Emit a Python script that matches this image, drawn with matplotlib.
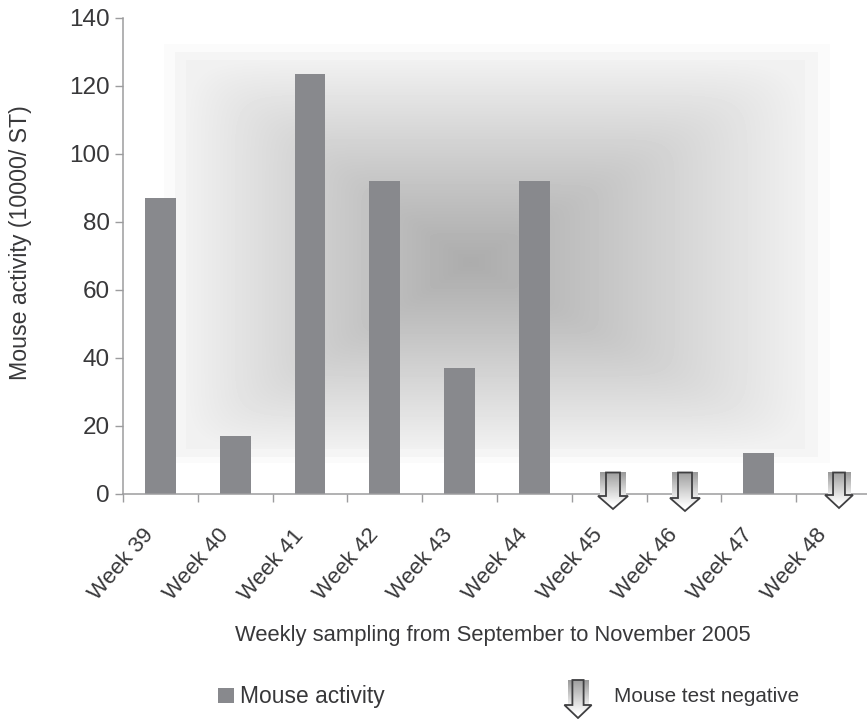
import numpy as np
import matplotlib
matplotlib.use("Agg")
import matplotlib.pyplot as plt
from matplotlib.patches import Polygon, Rectangle

plt.rcParams['font.family'] = ['Liberation Sans', 'DejaVu Sans']

weeks = ['Week 39', 'Week 40', 'Week 41', 'Week 42', 'Week 43',
         'Week 44', 'Week 45', 'Week 46', 'Week 47', 'Week 48']
activity = [87, 17, 123.5, 92, 37, 92, 0, 0, 12, 0]
negative_weeks = ['Week 45', 'Week 46', 'Week 48']

W, H = 867, 719
TXT = '#38383a'
AXC = '#9c9c9e'
BAR = '#88898d'

fig = plt.figure(figsize=(W / 100, H / 100), dpi=100, facecolor='white')


def ax_rect(l, t, r, b):
    return [l / W, 1 - b / H, (r - l) / W, (b - t) / H]


# background gradient panel
bg = fig.add_axes(ax_rect(0, 0, W, H), zorder=0)
bg.axis('off')
x0, x1, y0, y1 = 164, 830, 44, 463
cx, cy = 470, 262
xs = np.arange(x0, x1)
ys = np.arange(y0, y1)
X, Y = np.meshgrid(xs, ys)
dx = np.where(X < cx, (cx - X) / (cx - x0), (X - cx) / (x1 - cx))
dy = np.where(Y < cy, (cy - Y) / (cy - y0), (Y - cy) / (y1 - cy))
d = np.maximum(dx, dy)
soft = (dx ** 12 + dy ** 12) ** (1 / 12)
t = np.clip(soft / 0.93, 0, 1)
shade = 0.675 + (0.945 - 0.675) * t ** 1.1
shade[d > 0.93] = 0.96
shade[d > 0.966] = 0.982
bg.imshow(shade, cmap='gray', vmin=0, vmax=1, extent=(x0, x1, y1, y0),
          aspect='auto', interpolation='bilinear', zorder=0)
bg.set_xlim(0, W)
bg.set_ylim(H, 0)

# main chart
ax = fig.add_axes(ax_rect(123, 18, 871, 494), zorder=1)
ax.patch.set_alpha(0)
ax.bar(np.arange(len(weeks)) + 0.5, activity, width=0.41, color=BAR)
ax.set_xlim(0, len(weeks))
ax.set_ylim(0, 140)
ax.set_yticks(range(0, 141, 20))
ax.set_xticks(range(len(weeks) + 1))
ax.set_xticklabels([])
for s in ('top', 'right'):
    ax.spines[s].set_visible(False)
for s in ('left', 'bottom'):
    ax.spines[s].set_color(AXC)
    ax.spines[s].set_linewidth(1.1)
ax.tick_params(axis='y', length=5.5, width=1, color=AXC, labelsize=17.5,
               labelcolor=TXT, pad=4)
ax.tick_params(axis='x', length=5.5, width=1, color=AXC)

# overlay in pixel coordinates for labels and arrows
ov = fig.add_axes(ax_rect(0, 0, W, H), zorder=2)
ov.axis('off')

for i, w in enumerate(weeks):
    px = 123 + 74.8 * (i + 0.5)
    ov.text(px - 18, 525, w, rotation=49, rotation_mode='anchor', ha='right',
            va='top', fontsize=16, color=TXT)

ov.text(21, 243, 'Mouse activity (10000/ ST)', rotation=90, ha='center',
        va='center', fontsize=16.7, color=TXT)
ov.text(493, 636, 'Weekly sampling from September to November 2005',
        ha='center', va='center', fontsize=15.8, color=TXT)


def arrow(cx, top, scale, tip):
    hw = 7 * scale
    band = 13 * scale
    head_y = tip - 13
    grad = np.linspace(0.6, 0.97, 64).reshape(-1, 1)
    ov.imshow(grad, cmap='gray', vmin=0, vmax=1, aspect='auto',
              extent=(cx - band, cx + band, head_y + 3, top), zorder=1,
              interpolation='bilinear')
    pts = [(cx - hw, top), (cx + hw, top), (cx + hw, head_y),
           (cx + hw + 8, head_y), (cx, tip), (cx - hw - 8, head_y),
           (cx - hw, head_y)]
    fill = ov.imshow(np.linspace(0.62, 1, 64).reshape(-1, 1), cmap='gray',
                     vmin=0, vmax=1, aspect='auto', zorder=2,
                     extent=(cx - 20, cx + 20, tip - 4, top),
                     interpolation='bilinear')
    poly = Polygon(pts, closed=True, fc='none', ec='#3f3f41', lw=1.3, zorder=3)
    ov.add_patch(poly)
    fill.set_clip_path(poly)


arrow_px = {'Week 45': (613, 1.0, 509), 'Week 46': (685, 1.0, 511),
            'Week 48': (839, 0.85, 508)}
for w in negative_weeks:
    c, s, t_ = arrow_px[w]
    arrow(c, 472.5, s, t_)

# legend
ov.add_patch(Rectangle((218, 688), 16, 15, fc=BAR, ec='none'))
ov.text(240, 697, 'Mouse activity', ha='left', va='center', fontsize=16.4,
        color=TXT)
arrow(578, 680, 0.8, 718)
ov.text(614, 697, 'Mouse test negative', ha='left', va='center', fontsize=14.9,
        color=TXT)
ov.set_xlim(0, W)
ov.set_ylim(H, 0)

fig.savefig('out.png', dpi=100, facecolor='white')
